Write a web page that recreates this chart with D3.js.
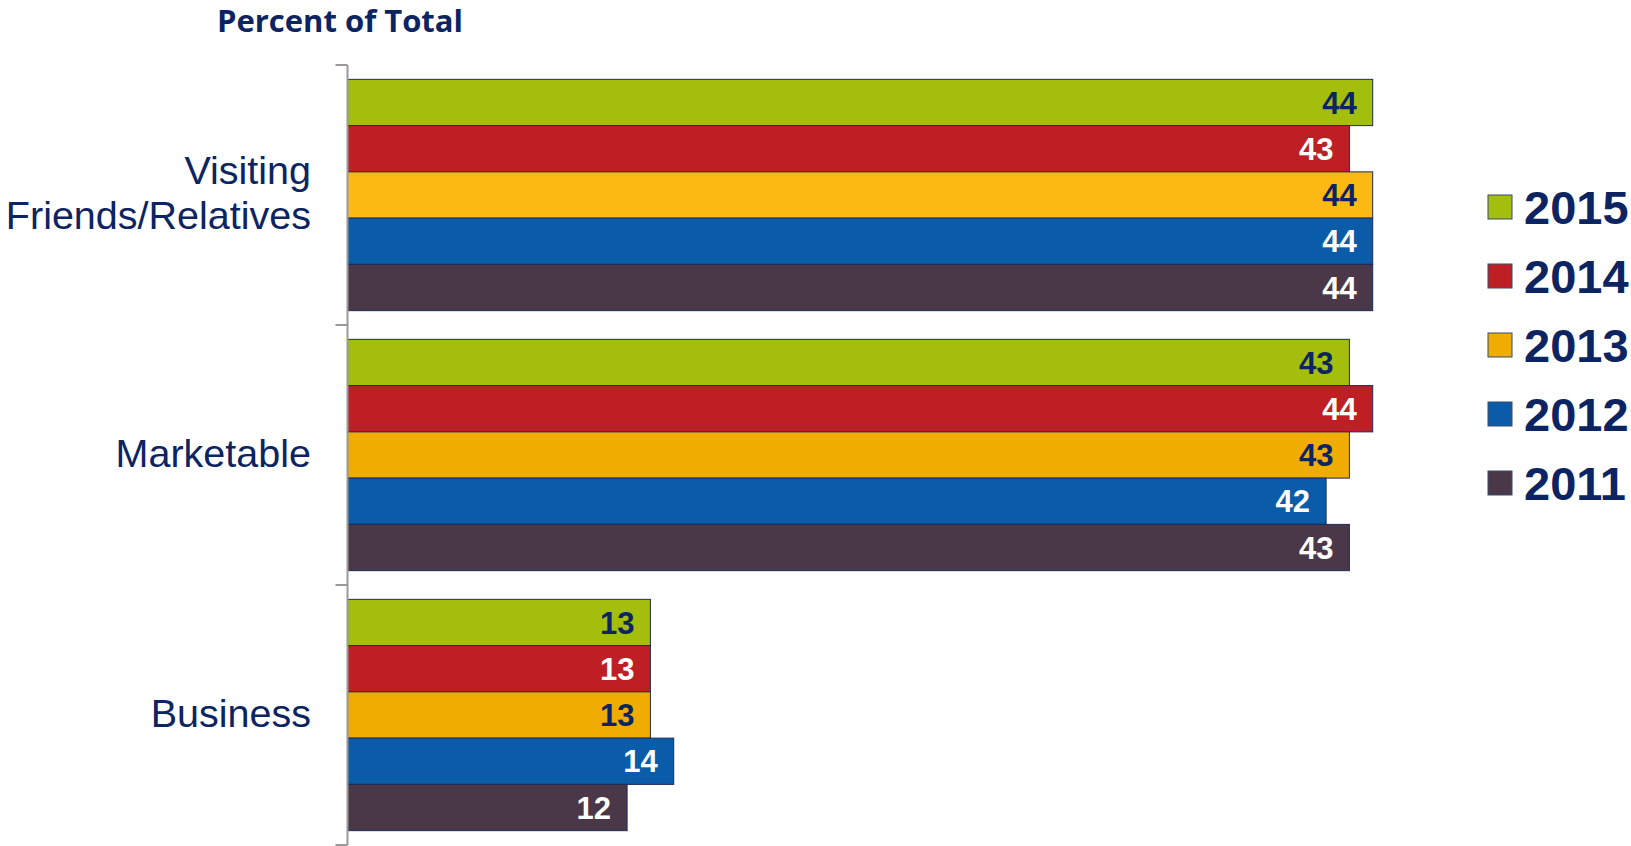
<!DOCTYPE html>
<html>
<head>
<meta charset="utf-8">
<script src="https://cdn.jsdelivr.net/npm/d3@7/dist/d3.min.js"></script>
<style>
  html, body { margin: 0; padding: 0; background: #ffffff; }
  svg { display: block; }
</style>
</head>
<body>
<svg id="chart" width="1631" height="846"></svg>
<script>
// Purpose-of-trip shares, percent of total
const categories = ["Visiting Friends/Relatives", "Marketable", "Business"];
const years = ["2015", "2014", "2013", "2012", "2011"];
const values2015 = [44, 43, 13];
const values2014 = [43, 44, 13];
const values2013 = [44, 43, 13];
const values2012 = [44, 42, 14];
const values2011 = [44, 43, 12];
const seriesValues = [values2015, values2014, values2013, values2012, values2011];
const titleText = "Percent of Total";

// styling
const fills = ["#a3be0c", "#be1f24", "#f0ac00", "#0a5ba8", "#4a3848"];
const labelColors = ["#0c2461", "#ffffff", "#0c2461", "#ffffff", "#ffffff"];
const navy = "#0c2461";

const svg = d3.select("#chart");
const axisX = 347.5;

const y0 = d3.scaleBand().domain(categories).range([65, 845]).paddingInner(0).paddingOuter(0);
const y1 = d3.scaleBand().domain(years).range([0, y0.bandwidth()]).paddingOuter(0.31).paddingInner(0);
const x = d3.scaleLinear().domain([0, 50]).range([axisX, axisX + 1165]);

// bars
const groups = svg.selectAll("g.cat")
  .data(categories)
  .join("g")
  .attr("class", "cat")
  .attr("transform", c => `translate(0,${y0(c)})`);

const rows = groups.selectAll("g.bar")
  .data((c, ci) => years.map((yr, si) => ({ cat: c, ci, year: yr, si, v: seriesValues[si][ci] })))
  .join("g")
  .attr("class", "bar");

rows.append("rect")
  .attr("x", x(0))
  .attr("y", d => y1(d.year))
  .attr("width", d => x(d.v) - x(0))
  .attr("height", y1.bandwidth())
  .attr("fill", d => (d.ci === 0 && d.si === 2) ? "#fdb913" : fills[d.si])
  .attr("stroke", "#1c2b5a")
  .attr("stroke-width", 1);

rows.append("text")
  .attr("x", d => x(d.v) - 16)
  .attr("y", d => y1(d.year) + y1.bandwidth() / 2)
  .attr("dy", "0.36em")
  .attr("text-anchor", "end")
  .attr("font-family", "'Liberation Sans', Arial, sans-serif")
  .attr("font-weight", "bold")
  .attr("font-size", 31)
  .attr("fill", d => labelColors[d.si])
  .text(d => d3.format("d")(d.v));

// category axis with outward ticks at band boundaries
const axisG = svg.append("g").attr("transform", `translate(${axisX},0)`);
axisG.append("line")
  .attr("x1", 0).attr("x2", 0)
  .attr("y1", y0.range()[0]).attr("y2", y0.range()[1])
  .attr("stroke", "#999999").attr("stroke-width", 2);
const boundaries = categories.map(c => y0(c)).concat([y0.range()[1]]);
axisG.selectAll("line.tick")
  .data(boundaries)
  .join("line")
  .attr("class", "tick")
  .attr("x1", -12).attr("x2", 0)
  .attr("y1", d => d).attr("y2", d => d)
  .attr("stroke", "#999999").attr("stroke-width", 2);

// category labels
const catLabels = svg.selectAll("text.cat")
  .data(categories)
  .join("text")
  .attr("class", "cat")
  .attr("text-anchor", "end")
  .attr("font-family", "'Liberation Sans', Arial, sans-serif")
  .attr("font-size", 39.5)
  .attr("fill", navy);

catLabels.each(function (c) {
  const words = c.split(" ");
  const lineH = 45;
  const cy = y0(c) + y0.bandwidth() / 2 - 2;
  const t = d3.select(this);
  words.forEach((w, i) => {
    t.append("tspan")
      .attr("x", 311)
      .attr("y", cy + (i - (words.length - 1) / 2) * lineH)
      .attr("dy", "0.35em")
      .text(w);
  });
});

// title
svg.append("text")
  .attr("x", 340)
  .attr("y", 32)
  .attr("text-anchor", "middle")
  .attr("font-family", "'Open Sans', sans-serif")
  .attr("font-weight", "bold")
  .attr("font-size", 31)
  .attr("fill", navy)
  .text(titleText);

// legend
const legend = svg.append("g").attr("transform", "translate(1488,0)");
const legendY = d3.scalePoint().domain(years).range([207, 483]);
const items = legend.selectAll("g.item")
  .data(years)
  .join("g")
  .attr("class", "item")
  .attr("transform", yr => `translate(0,${legendY(yr)})`);
items.append("rect")
  .attr("x", 0).attr("y", -12)
  .attr("width", 24).attr("height", 24)
  .attr("fill", (yr, i) => fills[i])
  .attr("stroke", "#3a4a6b").attr("stroke-width", 1);
items.append("text")
  .attr("x", 36)
  .attr("dy", "0.36em")
  .attr("font-family", "'Liberation Sans', Arial, sans-serif")
  .attr("font-weight", "bold")
  .attr("font-size", 47)
  .attr("fill", navy)
  .text(yr => yr);
</script>
</body>
</html>
